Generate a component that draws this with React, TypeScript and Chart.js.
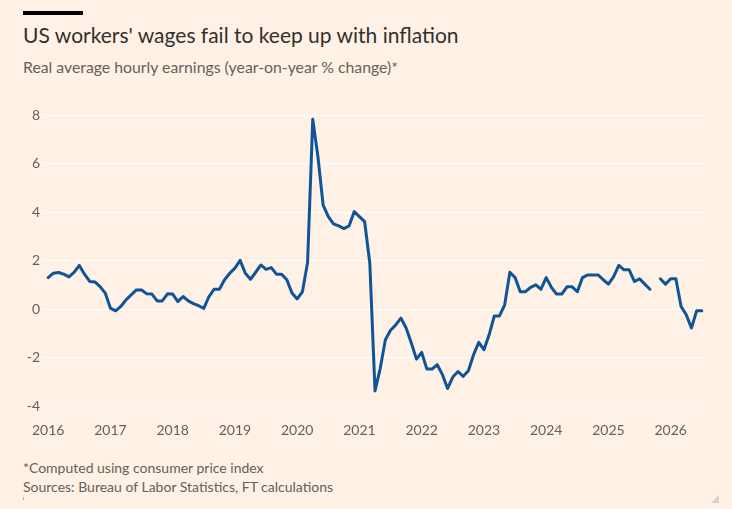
import { useEffect, useRef } from "react";
import { Chart, registerables } from "chart.js";
import type { ChartOptions } from "chart.js";

Chart.register(...registerables);

// Real average hourly earnings, y/y % change, monthly from Jan 2016
const wages2016 = [1.3, 1.48, 1.51, 1.44, 1.33, 1.52, 1.8, 1.44, 1.14, 1.12, 0.93, 0.66];
const wages2017 = [0.04, -0.07, 0.11, 0.38, 0.59, 0.79, 0.79, 0.63, 0.62, 0.34, 0.34, 0.63];
const wages2018 = [0.62, 0.31, 0.52, 0.34, 0.23, 0.14, 0.03, 0.52, 0.82, 0.82, 1.21, 1.48];
const wages2019 = [1.69, 2.01, 1.48, 1.23, 1.52, 1.82, 1.64, 1.71, 1.44, 1.44, 1.21, 0.66];
const wages2020 = [0.42, 0.71, 1.92, 7.82, 6.28, 4.29, 3.81, 3.51, 3.43, 3.32, 3.43, 4.02];
const wages2021 = [3.81, 3.61, 1.89, -3.37, -2.45, -1.26, -0.87, -0.65, -0.37, -0.78, -1.4, -2.06];
const wages2022 = [-1.78, -2.47, -2.47, -2.29, -2.7, -3.27, -2.8, -2.57, -2.77, -2.54, -1.88, -1.37];
const wages2023 = [-1.67, -1.06, -0.28, -0.28, 0.18, 1.52, 1.3, 0.72, 0.72, 0.9, 1.0, 0.82];
const wages2024 = [1.3, 0.9, 0.62, 0.62, 0.92, 0.92, 0.72, 1.3, 1.41, 1.41, 1.41, 1.21];
const wages2025 = [1.03, 1.34, 1.8, 1.62, 1.62, 1.14, 1.25, 1.03, 0.82, null, 1.25, 1.03];
const wages2026 = [1.25, 1.25, 0.11, -0.23, -0.78, -0.07, -0.07];

const yearLabels = ["2016", "2017", "2018", "2019", "2020", "2021", "2022", "2023", "2024", "2025", "2026"];
const yTicks = [-4, -2, 0, 2, 4, 6, 8];

const wages: (number | null)[] = [
  ...wages2016, ...wages2017, ...wages2018, ...wages2019, ...wages2020, ...wages2021,
  ...wages2022, ...wages2023, ...wages2024, ...wages2025, ...wages2026,
];

const FONT = "Lato, 'Noto Sans', sans-serif";
const GREY = "#66605c";

function WagesChart() {
  const canvasRef = useRef<HTMLCanvasElement | null>(null);

  useEffect(() => {
    if (!canvasRef.current) return;

    const options: ChartOptions<"line"> = {
      responsive: true,
      maintainAspectRatio: false,
      animation: false,
      layout: { padding: { top: 15, right: 25, bottom: 0, left: 0 } },
      plugins: { legend: { display: false }, tooltip: { enabled: false } },
      scales: {
        x: {
          type: "linear",
          min: -1,
          max: 127,
          afterBuildTicks: (scale) => {
            scale.ticks = yearLabels.map((_, k) => ({ value: k * 12 }));
          },
          grid: { display: false, drawTicks: false },
          border: { display: false },
          ticks: {
            autoSkip: false,
            maxRotation: 0,
            padding: 16,
            color: GREY,
            font: { family: FONT, size: 14 },
            callback: (v) => yearLabels[Math.round(Number(v) / 12)],
          },
        },
        y: {
          min: -4,
          max: 8,
          afterBuildTicks: (scale) => {
            scale.ticks = yTicks.map((v) => ({ value: v }));
          },
          afterFit: (scale) => {
            scale.width = 43;
          },
          grid: { color: "rgba(255,255,255,0.9)", lineWidth: 1, drawTicks: false },
          border: {
            display: false,
            dash: (ctx) => (ctx.tick && ctx.tick.value === -4 ? [1, 2] : []),
          },
          ticks: {
            padding: 3,
            color: GREY,
            font: { family: FONT, size: 14 },
          },
        },
      },
    };

    const chart = new Chart(canvasRef.current, {
      type: "line",
      data: {
        datasets: [
          {
            data: wages.map((v, i) => ({ x: i, y: v as number })),
            borderColor: "#0f5499",
            borderWidth: 3,
            borderJoinStyle: "round",
            borderCapStyle: "round",
            pointRadius: 0,
            tension: 0,
            spanGaps: false,
          },
        ],
      },
      options,
    });

    return () => {
      chart.destroy();
    };
  }, []);

  return (
    <div style={{ position: "absolute", left: 0, top: 100, width: 732, height: 355 }}>
      <canvas ref={canvasRef} />
    </div>
  );
}

export default function App() {
  return (
    <div
      style={{
        position: "relative",
        width: 732,
        height: 509,
        background: "#fff1e5",
        fontFamily: FONT,
        overflow: "hidden",
      }}
    >
      <style>{`body{margin:0}`}</style>
      <div style={{ position: "absolute", left: 23, top: 11, width: 60, height: 4, background: "#000" }} />
      <div
        style={{
          position: "absolute",
          left: 23,
          top: 24,
          fontSize: 21,
          lineHeight: 1,
          color: "#33302e",
          whiteSpace: "nowrap",
        }}
      >
        US workers' wages fail to keep up with inflation
      </div>
      <div
        style={{
          position: "absolute",
          left: 23,
          top: 59,
          fontSize: 15.8,
          lineHeight: 1,
          color: GREY,
          whiteSpace: "nowrap",
        }}
      >
        Real average hourly earnings (year-on-year % change)*
      </div>
      <WagesChart />
      <div
        style={{
          position: "absolute",
          left: 23,
          top: 458,
          fontSize: 14,
          lineHeight: "19px",
          color: GREY,
          whiteSpace: "nowrap",
        }}
      >
        <div>*Computed using consumer price index</div>
        <div>Sources: Bureau of Labor Statistics, FT calculations</div>
      </div>
      <div style={{ position: "absolute", left: 23, top: 497, width: 1, height: 3, background: "#b8aea6" }} />
      <div
        style={{
          position: "absolute",
          left: 711,
          top: 495,
          width: 0,
          height: 0,
          borderLeft: "8px solid transparent",
          borderBottom: "8px solid #d9cfc7",
        }}
      />
    </div>
  );
}
